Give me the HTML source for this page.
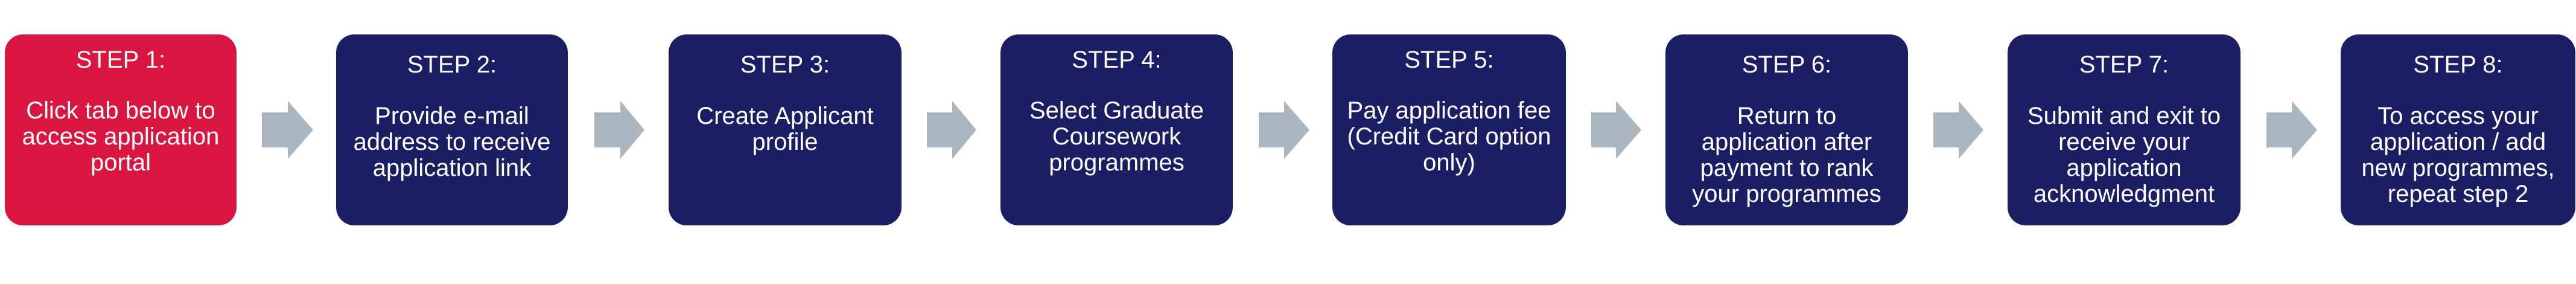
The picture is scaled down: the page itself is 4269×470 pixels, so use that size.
<!DOCTYPE html>
<html><head><meta charset="utf-8"><style>
html,body{margin:0;padding:0;background:#fff;}
body{width:4269px;height:470px;position:relative;overflow:hidden;font-family:"Liberation Sans",Arial,sans-serif;}
.b{position:absolute;top:57px;height:316px;border-radius:30px;background:#1B1E62;color:#fff;}
.b.r{background:#D91640;}
.t{position:absolute;left:0;right:0;text-align:center;font-size:40px;line-height:43px;white-space:nowrap;}
svg{position:absolute;left:0;top:0;}
</style></head><body>
<svg width="4269" height="470">
<g fill="#ABB6C1">
<polygon points="434,186 477,186 477,167 519,215 477,263 477,244 434,244"/>
<polygon points="985,186 1028,186 1028,167 1068,215 1028,263 1028,244 985,244"/>
<polygon points="1536,186 1578,186 1578,167 1618,215 1578,263 1578,244 1536,244"/>
<polygon points="2086,186 2128,186 2128,167 2170,215 2128,263 2128,244 2086,244"/>
<polygon points="2637,186 2678,186 2678,167 2720,215 2678,263 2678,244 2637,244"/>
<polygon points="3204,186 3246,186 3246,167 3287,215 3246,263 3246,244 3204,244"/>
<polygon points="3756,186 3798,186 3798,167 3840,215 3798,263 3798,244 3756,244"/>
</g></svg>
<div class="b r" style="left:8px;width:384px"><div class="t" style="top:21px">STEP 1:</div><div class="t" style="top:105px">Click tab below to<br>access application<br>portal</div></div>
<div class="b" style="left:557px;width:384px"><div class="t" style="top:29px">STEP 2:</div><div class="t" style="top:114px">Provide e-mail<br>address to receive<br>application link</div></div>
<div class="b" style="left:1108px;width:386px"><div class="t" style="top:29px">STEP 3:</div><div class="t" style="top:114px">Create Applicant<br>profile</div></div>
<div class="b" style="left:1658px;width:385px"><div class="t" style="top:21px">STEP 4:</div><div class="t" style="top:105px">Select Graduate<br>Coursework<br>programmes</div></div>
<div class="b" style="left:2208px;width:387px"><div class="t" style="top:21px">STEP 5:</div><div class="t" style="top:105px">Pay application fee<br>(Credit Card option<br>only)</div></div>
<div class="b" style="left:2760px;width:402px"><div class="t" style="top:29px">STEP 6:</div><div class="t" style="top:114px">Return to<br>application after<br>payment to rank<br>your programmes</div></div>
<div class="b" style="left:3327px;width:386px"><div class="t" style="top:29px">STEP 7:</div><div class="t" style="top:114px">Submit and exit to<br>receive your<br>application<br>acknowledgment</div></div>
<div class="b" style="left:3879px;width:389px"><div class="t" style="top:29px">STEP 8:</div><div class="t" style="top:114px">To access your<br>application / add<br>new programmes,<br>repeat step 2</div></div>
</body></html>
